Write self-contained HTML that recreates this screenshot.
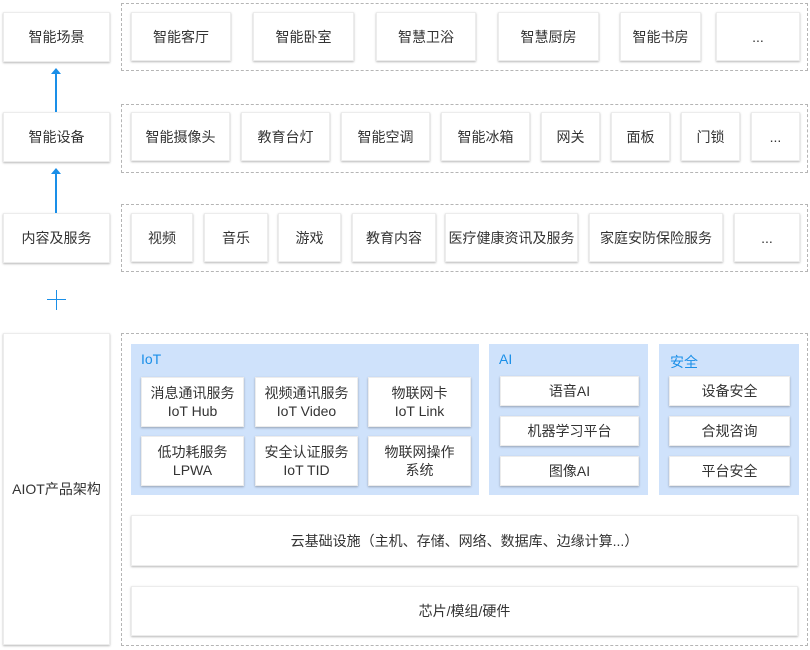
<!DOCTYPE html>
<html><head><meta charset="utf-8"><style>
*{margin:0;padding:0;box-sizing:border-box}
body{width:810px;height:650px;background:#fff;position:relative;overflow:hidden;font-family:"Liberation Sans","Noto Sans CJK SC",sans-serif;color:#333;font-size:14px}
.b{position:absolute;background:#fff;border:1px solid #ececec;box-shadow:0 1px 2px rgba(0,0,0,.28);display:flex;align-items:center;justify-content:center;text-align:center;line-height:18px}
.d{position:absolute;border:1px dashed #b5b5b5}
.p{position:absolute;background:#cfe2fb}
.t{position:absolute;color:#1a8fe8;font-size:14px}
.l{position:absolute;background:#1a8fe8}
</style></head><body>
<div class="d" style="left:121px;top:3px;width:687px;height:68px"></div>
<div class="d" style="left:121px;top:104px;width:687px;height:69px"></div>
<div class="d" style="left:121px;top:204px;width:687px;height:68px"></div>
<div class="d" style="left:121px;top:333px;width:687px;height:313px"></div>

<div class="b" style="left:3px;top:12px;width:107px;height:50px">智能场景</div>
<div class="b" style="left:3px;top:112px;width:107px;height:50px">智能设备</div>
<div class="b" style="left:3px;top:213px;width:107px;height:50px">内容及服务</div>
<div class="b" style="left:3px;top:333px;width:107px;height:312px">AIOT产品架构</div>

<div class="l" style="left:55px;top:74px;width:2px;height:38px"></div>
<div style="position:absolute;left:51px;top:68px;border-left:5px solid transparent;border-right:5px solid transparent;border-bottom:6px solid #1a8fe8"></div>
<div class="l" style="left:55px;top:174px;width:2px;height:39px"></div>
<div style="position:absolute;left:51px;top:168px;border-left:5px solid transparent;border-right:5px solid transparent;border-bottom:6px solid #1a8fe8"></div>
<div class="l" style="left:56px;top:290px;width:1px;height:20px"></div>
<div class="l" style="left:47px;top:299px;width:19px;height:1px"></div>

<div class="b" style="left:131px;top:12px;width:100px;height:49px">智能客厅</div>
<div class="b" style="left:253px;top:12px;width:101px;height:49px">智能卧室</div>
<div class="b" style="left:376px;top:12px;width:100px;height:49px">智慧卫浴</div>
<div class="b" style="left:498px;top:12px;width:101px;height:49px">智慧厨房</div>
<div class="b" style="left:620px;top:12px;width:81px;height:49px">智能书房</div>
<div class="b" style="left:716px;top:12px;width:84px;height:49px">...</div>

<div class="b" style="left:131px;top:112px;width:99px;height:49px">智能摄像头</div>
<div class="b" style="left:241px;top:112px;width:89px;height:49px">教育台灯</div>
<div class="b" style="left:341px;top:112px;width:89px;height:49px">智能空调</div>
<div class="b" style="left:441px;top:112px;width:89px;height:49px">智能冰箱</div>
<div class="b" style="left:541px;top:112px;width:59px;height:49px">网关</div>
<div class="b" style="left:611px;top:112px;width:59px;height:49px">面板</div>
<div class="b" style="left:681px;top:112px;width:59px;height:49px">门锁</div>
<div class="b" style="left:751px;top:112px;width:49px;height:49px">...</div>

<div class="b" style="left:131px;top:213px;width:62px;height:49px">视频</div>
<div class="b" style="left:204px;top:213px;width:64px;height:49px">音乐</div>
<div class="b" style="left:278px;top:213px;width:63px;height:49px">游戏</div>
<div class="b" style="left:352px;top:213px;width:84px;height:49px">教育内容</div>
<div class="b" style="left:445px;top:213px;width:133px;height:49px">医疗健康资讯及服务</div>
<div class="b" style="left:589px;top:213px;width:134px;height:49px">家庭安防保险服务</div>
<div class="b" style="left:734px;top:213px;width:66px;height:49px">...</div>

<div class="p" style="left:131px;top:344px;width:348px;height:151px"></div>
<div class="p" style="left:489px;top:344px;width:159px;height:151px"></div>
<div class="p" style="left:659px;top:344px;width:140px;height:151px"></div>
<div class="t" style="left:141px;top:351px">IoT</div>
<div class="t" style="left:499px;top:351px">AI</div>
<div class="t" style="left:670px;top:352px">安全</div>

<div class="b" style="left:141px;top:377px;width:103px;height:50px">消息通讯服务<br>IoT Hub</div>
<div class="b" style="left:255px;top:377px;width:103px;height:50px">视频通讯服务<br>IoT Video</div>
<div class="b" style="left:368px;top:377px;width:103px;height:50px">物联网卡<br>IoT Link</div>
<div class="b" style="left:141px;top:436px;width:103px;height:50px">低功耗服务<br>LPWA</div>
<div class="b" style="left:255px;top:436px;width:103px;height:50px">安全认证服务<br>IoT TID</div>
<div class="b" style="left:368px;top:436px;width:103px;height:50px">物联网操作<br>系统</div>

<div class="b" style="left:500px;top:376px;width:139px;height:30px">语音AI</div>
<div class="b" style="left:500px;top:416px;width:139px;height:30px">机器学习平台</div>
<div class="b" style="left:500px;top:456px;width:139px;height:30px">图像AI</div>
<div class="b" style="left:669px;top:376px;width:121px;height:30px">设备安全</div>
<div class="b" style="left:669px;top:416px;width:121px;height:30px">合规咨询</div>
<div class="b" style="left:669px;top:456px;width:121px;height:30px">平台安全</div>

<div class="b" style="left:131px;top:515px;width:667px;height:51px">云基础设施（主机、存储、网络、数据库、边缘计算...）</div>
<div class="b" style="left:131px;top:586px;width:667px;height:50px">芯片/模组/硬件</div>
</body></html>
